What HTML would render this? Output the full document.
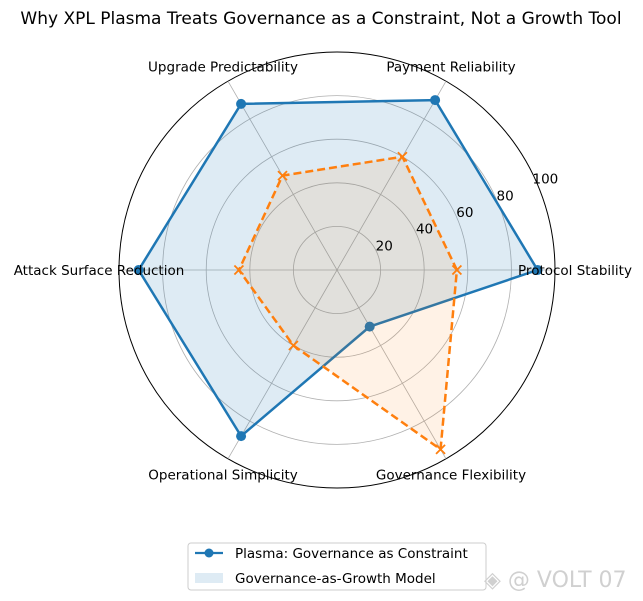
<!DOCTYPE html>
<html><head><meta charset="utf-8"><style>
body{margin:0;background:#fff;}
svg{display:block;font-family:"DejaVu Sans","Liberation Sans",sans-serif;}
</style></head><body>
<svg id="chart" width="643" height="601" viewBox="0 0 643 601">
<text x="321" y="24" text-anchor="middle" font-size="17" fill="#000">Why XPL Plasma Treats Governance as a Constraint, Not a Growth Tool</text>
<g id="grid"></g><g id="series"></g><g id="labels"></g>
<g>
<rect x="188" y="543" width="298" height="47" rx="3" fill="#fff" stroke="#ccc"/>
<line x1="195" y1="553" x2="223" y2="553" stroke="#1f77b4" stroke-width="2.3"/>
<circle cx="209" cy="553" r="4.5" fill="#1f77b4"/>
<text x="235" y="558" font-size="13.5">Plasma: Governance as Constraint</text>
<rect x="195" y="573" width="28" height="10" fill="#1f77b4" fill-opacity="0.15"/>
<text x="235" y="583" font-size="13.5">Governance-as-Growth Model</text>
</g>
<text x="484" y="587" font-size="22" fill="#d0d0d0">◈ @ VOLT 07</text>
</svg>
<script>
const categories=["Protocol Stability","Payment Reliability","Upgrade Predictability","Attack Surface Reduction","Operational Simplicity","Governance Flexibility"];
const plasmaValues=[92,90,88,91,88,30];
const growthValues=[55,60,50,45,40,95];
const rTicks=[20,40,60,80,100];
const NS="http://www.w3.org/2000/svg";
const cx=337,cy=270,R=218,maxV=100;
function rScale(v){return v/maxV*R;}
function pt(i,v){const a=i*2*Math.PI/categories.length;return [cx+rScale(v)*Math.cos(a),cy-rScale(v)*Math.sin(a)];}
function mk(tag,attrs,parent){const e=document.createElementNS(NS,tag);for(const k in attrs)e.setAttribute(k,attrs[k]);parent.appendChild(e);return e;}
const grid=document.getElementById('grid'),ser=document.getElementById('series'),lab=document.getElementById('labels');
rTicks.forEach(t=>{
 const c=mk('circle',{cx:cx,cy:cy,r:rScale(t),fill:'none',stroke:t===100?'#000':'#b0b0b0','stroke-width':t===100?1:0.8},grid);
 
 
 const a=22.5*Math.PI/180;
 const tx=mk('text',{x:cx+rScale(t)*Math.cos(a)+7,y:cy-rScale(t)*Math.sin(a)-3,'font-size':13.5,'text-anchor':'middle'},lab);
 tx.textContent=t;
 
 
});
categories.forEach((c,i)=>{
 const [x,y]=pt(i,maxV);
 const l=mk('line',{x1:cx,y1:cy,x2:x,y2:y,stroke:'#b0b0b0','stroke-width':0.8},grid);
 
 
 const a=i*2*Math.PI/categories.length;
 const lr=(i===0||i===3)?238:R+10;
 const lx=cx+lr*Math.cos(a), ly=cy-lr*Math.sin(a);
 let dy=5;
 if(i===1||i===2)dy=-1;
 if(i===4||i===5)dy=12;
 const t=mk('text',{x:lx,y:ly+dy,'font-size':13.5,'text-anchor':'middle'},lab);
 t.textContent=c;
 
 
});
function drawSeries(vals,color,fillOp,dash,marker,name){
 const pts=vals.map((v,i)=>pt(i,v));
 const p=pts.map(q=>q.join(',')).join(' ');
 const poly=mk('polygon',{points:p,fill:color,'fill-opacity':fillOp,stroke:'none'},ser);
 
 
 const line=mk('polygon',{points:p,fill:'none',stroke:color,'stroke-width':2.5,'stroke-dasharray':dash},ser);
 
 
 pts.forEach(([x,y])=>{
  let m;
  if(marker==='o'){m=mk('circle',{cx:x,cy:y,r:5,fill:color},ser);}
  else{m=mk('path',{d:`M${x-4.5},${y-4.5}L${x+4.5},${y+4.5}M${x-4.5},${y+4.5}L${x+4.5},${y-4.5}`,stroke:color,'stroke-width':1.8},ser);}
  
  
 });
}
drawSeries(plasmaValues,'#1f77b4',0.15,'none','o','plasma-series');
drawSeries(growthValues,'#ff7f0e',0.1,'8,4','x','growth-series');
</script>
</body></html>
